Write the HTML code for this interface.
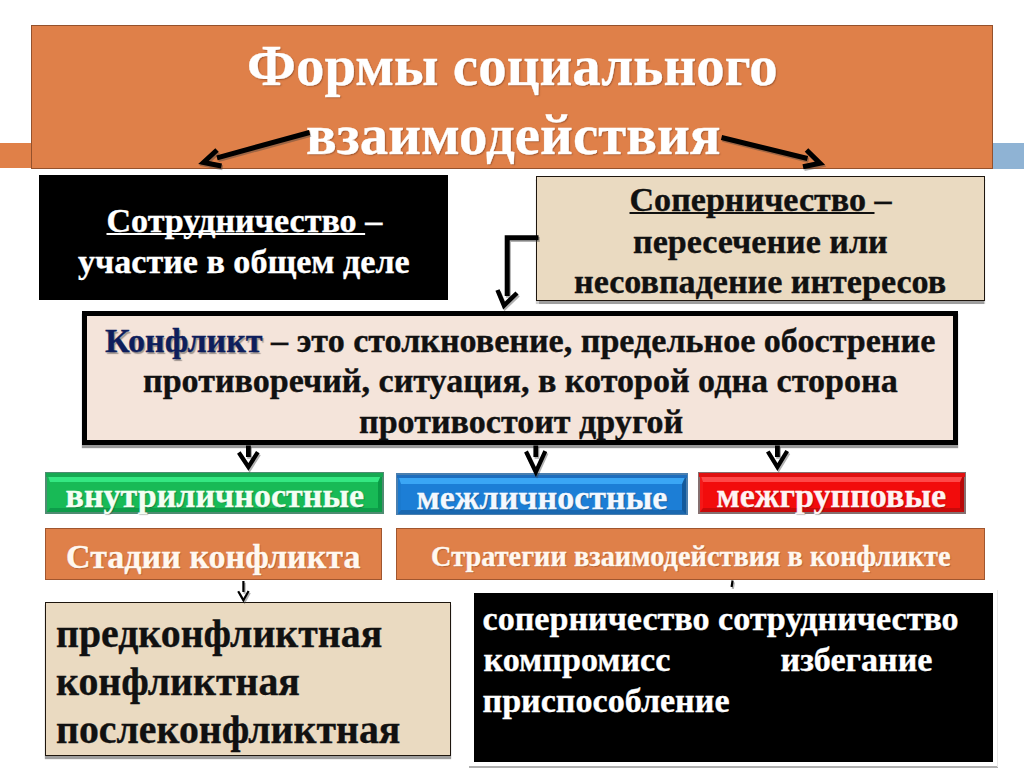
<!DOCTYPE html>
<html><head><meta charset="utf-8">
<style>
html,body{margin:0;padding:0;width:1024px;height:768px;overflow:hidden;background:#fff;}
body{position:relative;font-family:"Liberation Serif",serif;font-weight:bold;}
.a{position:absolute;box-sizing:border-box;}
.t{position:absolute;white-space:nowrap;-webkit-text-stroke:0.35px currentColor;}
u{text-decoration-thickness:2px;text-underline-offset:1px;text-decoration-skip-ink:none;}
</style></head><body>
<div class="a" style="left:0;top:143px;width:32px;height:25px;background:#E08048;"></div>
<div class="a" style="left:993px;top:143px;width:31px;height:25.5px;background:#8FB3D4;"></div>
<div id="title" class="a" style="left:31px;top:25px;width:962px;height:143.5px;background:#DF8049;border:1.8px solid #94512C;"></div>
<div id="bb1" class="a" style="left:39px;top:175px;width:409px;height:125px;background:#000;"></div>
<div id="tb1" class="a" style="left:535.5px;top:175.5px;width:449.5px;height:125.5px;background:#EADAC1;border:1.6px solid #1E160E;box-shadow:0 2.5px 1px rgba(0,0,0,.38);"></div>
<div id="cb" class="a" style="left:82px;top:311px;width:876px;height:134px;background:#F4E4DA;border:5.5px solid #000;box-shadow:0 3px 1px rgba(0,0,0,.4);"></div>
<div id="g" class="a" style="left:45px;top:471.5px;width:338.5px;height:42px;background:#4F8C72;"><div class="a" style="left:1.5px;top:1.5px;right:1.5px;bottom:1.5px;background:#18BA56;border-style:solid;border-width:9px 4.5px 4.5px 3.5px;border-color:#34E882 #0A9A45 #0E9C4A #1AB457;"><div class="a" style="left:-3.5px;right:-4.5px;top:-9px;height:3.5px;background:#16A852;"></div></div></div>
<div id="bl" class="a" style="left:396px;top:473.2px;width:291.8px;height:42.2px;background:#4A7FAF;"><div class="a" style="left:1.5px;top:1.5px;right:1.5px;bottom:1.5px;background:#1C7ED6;border-style:solid;border-width:9px 4.5px 4.5px 3.5px;border-color:#3AA6F5 #135A9C #1A68B0 #1A7ACF;"><div class="a" style="left:-3.5px;right:-4.5px;top:-9px;height:3.5px;background:#1E6EBE;"></div></div></div>
<div id="rd" class="a" style="left:698px;top:471.5px;width:267.5px;height:42px;background:#857070;"><div class="a" style="left:1.5px;top:1.5px;right:1.5px;bottom:1.5px;background:#F20C0C;border-style:solid;border-width:9px 4.5px 4.5px 3.5px;border-color:#FF4848 #B80808 #C80A0A #F51818;"><div class="a" style="left:-3.5px;right:-4.5px;top:-9px;height:3.5px;background:#E01010;"></div></div></div>
<div id="o1" class="a" style="left:45px;top:528px;width:337px;height:52px;background:#DF8049;border:1.5px solid #A0562F;"></div>
<div id="o2" class="a" style="left:396px;top:528px;width:589px;height:52px;background:#DF8049;border:1.5px solid #A0562F;"></div>
<div id="tb2" class="a" style="left:45px;top:601.5px;width:406px;height:154px;background:#EADAC1;border:1.6px solid #1E160E;box-shadow:0 3px 1px rgba(0,0,0,.38);"></div>
<div class="a" style="left:469px;top:766px;width:529px;height:2px;background:#B0B0B0;"></div>
<div class="a" style="left:997px;top:590px;width:1px;height:177px;background:#E8E8E8;"></div>
<div id="bb2" class="a" style="left:474.3px;top:592.5px;width:518.7px;height:169px;background:#000;"></div>
<div id="t1" class="t" style="left:247.00px;top:32.07px;font-size:57px;line-height:68.39999999999999px;color:#fff;text-shadow:1px 1px 1.5px rgba(80,30,10,.45);">Формы социального</div>
<div id="t2" class="t" style="left:306.00px;top:100.57px;font-size:57px;line-height:68.39999999999999px;color:#fff;text-shadow:1px 1px 1.5px rgba(80,30,10,.45);">взаимодействия</div>
<div id="bb1a" class="t" style="left:106.50px;top:200.54px;font-size:34.1px;line-height:40.92px;color:#fff;"><u>Сотрудничество </u>–</div>
<div id="bb1b" class="t" style="left:78.00px;top:242.14px;font-size:34.1px;line-height:40.92px;color:#fff;">участие в общем деле</div>
<div id="tb1a" class="t" style="left:629.50px;top:179.94px;font-size:34.1px;line-height:40.92px;color:#111;"><u>Соперничество </u>–</div>
<div id="tb1b" class="t" style="left:633.00px;top:221.64px;font-size:34.1px;line-height:40.92px;color:#111;">пересечение или</div>
<div id="tb1c" class="t" style="left:574.00px;top:262.24px;font-size:34.1px;line-height:40.92px;color:#111;">несовпадение интересов</div>
<div id="cba" class="t" style="left:105.00px;top:320.99px;font-size:34.1px;line-height:40.92px;color:#111;"><span style="color:#0E1E5C;text-shadow:1.5px 1.5px 1px rgba(0,0,0,.35);">Конфликт</span> – это столкновение, предельное обострение</div>
<div id="cbb" class="t" style="left:143.00px;top:360.94px;font-size:34.1px;line-height:40.92px;color:#111;">противоречий, ситуация, в которой одна сторона</div>
<div id="cbc" class="t" style="left:359.00px;top:401.74px;font-size:34.1px;line-height:40.92px;color:#111;">противостоит другой</div>
<div id="gt" class="t" style="left:65.50px;top:476.44px;font-size:34.1px;line-height:40.92px;color:#F3FFF3;text-shadow:1px 1px 1px rgba(0,0,0,.3);">внутриличностные</div>
<div id="blt" class="t" style="left:416.50px;top:477.84px;font-size:34.1px;line-height:40.92px;color:#F3F8FF;text-shadow:1px 1px 1px rgba(0,0,0,.3);">межличностные</div>
<div id="rdt" class="t" style="left:716.50px;top:476.34px;font-size:34.1px;line-height:40.92px;color:#FFF3F3;text-shadow:1px 1px 1px rgba(0,0,0,.3);">межгрупповые</div>
<div id="o1t" class="t" style="left:66.00px;top:536.74px;font-size:34.1px;line-height:40.92px;color:#FFF8F0;text-shadow:1px 1px 1px rgba(90,35,10,.35);">Стадии конфликта</div>
<div id="o2t" class="t" style="left:431.00px;top:540.18px;font-size:28.4px;line-height:34.08px;color:#FFF8F0;text-shadow:1px 1px 1px rgba(90,35,10,.35);">Стратегии взаимодействия в конфликте</div>
<div id="bla" class="t" style="left:56.00px;top:611.29px;font-size:39.8px;line-height:47.76px;color:#111;">предконфликтная</div>
<div id="blb" class="t" style="left:56.00px;top:659.19px;font-size:39.8px;line-height:47.76px;color:#111;">конфликтная</div>
<div id="blc" class="t" style="left:56.00px;top:707.09px;font-size:39.8px;line-height:47.76px;color:#111;">послеконфликтная</div>
<div id="bra" class="t" style="left:482.50px;top:599.44px;font-size:34.1px;line-height:40.92px;color:#fff;">соперничество сотрудничество</div>
<div id="brb1" class="t" style="left:483.50px;top:640.04px;font-size:34.1px;line-height:40.92px;color:#fff;">компромисс</div>
<div id="brb2" class="t" style="left:780.50px;top:640.04px;font-size:34.1px;line-height:40.92px;color:#fff;">избегание</div>
<div id="brc" class="t" style="left:482.50px;top:680.74px;font-size:34.1px;line-height:40.92px;color:#fff;">приспособление</div>
<svg class="a" style="left:0;top:0" width="1024" height="768" viewBox="0 0 1024 768"><g transform="translate(1.2,1.8)" stroke="rgba(60,60,60,.4)" fill="none" stroke-linejoin="miter" stroke-linecap="butt"><line x1="309.5" y1="132.5" x2="217" y2="157.8" stroke-width="5"/><polyline points="217,150 203.5,162.5 221.5,166" stroke-width="5"/><line x1="721.5" y1="137.5" x2="807.5" y2="158.5" stroke-width="5"/><polyline points="806.5,150 820,163.2 803,166.8" stroke-width="5"/><polyline points="538.5,237.8 507.2,237.8 507.2,296" stroke-width="5"/><polyline points="497.5,290 504,305.5 517,293" stroke-width="4.5"/><line x1="248.4" y1="445.5" x2="248.4" y2="457" stroke-width="4.8"/><polyline points="238.8,452.5 248.4,467 257.8,452.2" stroke-width="4.2"/><line x1="535.8" y1="445.5" x2="535.8" y2="457" stroke-width="4.8"/><polyline points="526,451.5 535.8,472 545.3,451.2" stroke-width="4.2"/><line x1="777.4" y1="445.5" x2="777.4" y2="457" stroke-width="4.8"/><polyline points="767.8,451.5 777.4,467 787.2,451" stroke-width="4.2"/><line x1="243.4" y1="581" x2="243.4" y2="592" stroke-width="2.2"/><polyline points="238.2,591.2 243.4,600.2 248.6,591" stroke-width="2.2"/><line x1="732.6" y1="580.5" x2="731.6" y2="587" stroke-width="2.2"/></g><g transform="translate(0,0)" stroke="#000" fill="none" stroke-linejoin="miter" stroke-linecap="butt"><line x1="309.5" y1="132.5" x2="217" y2="157.8" stroke-width="5"/><polyline points="217,150 203.5,162.5 221.5,166" stroke-width="5"/><line x1="721.5" y1="137.5" x2="807.5" y2="158.5" stroke-width="5"/><polyline points="806.5,150 820,163.2 803,166.8" stroke-width="5"/><polyline points="538.5,237.8 507.2,237.8 507.2,296" stroke-width="5"/><polyline points="497.5,290 504,305.5 517,293" stroke-width="4.5"/><line x1="248.4" y1="445.5" x2="248.4" y2="457" stroke-width="4.8"/><polyline points="238.8,452.5 248.4,467 257.8,452.2" stroke-width="4.2"/><line x1="535.8" y1="445.5" x2="535.8" y2="457" stroke-width="4.8"/><polyline points="526,451.5 535.8,472 545.3,451.2" stroke-width="4.2"/><line x1="777.4" y1="445.5" x2="777.4" y2="457" stroke-width="4.8"/><polyline points="767.8,451.5 777.4,467 787.2,451" stroke-width="4.2"/><line x1="243.4" y1="581" x2="243.4" y2="592" stroke-width="2.2"/><polyline points="238.2,591.2 243.4,600.2 248.6,591" stroke-width="2.2"/><line x1="732.6" y1="580.5" x2="731.6" y2="587" stroke-width="2.2"/></g></svg>
</body></html>
